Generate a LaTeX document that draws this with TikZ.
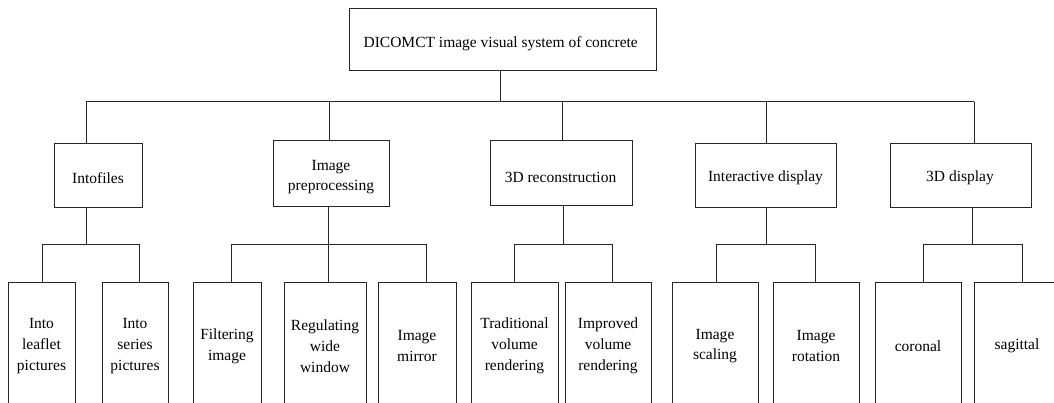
\documentclass[tikz,border=0pt]{standalone}
\usepackage{fontspec}
\setmainfont{Liberation Serif}
\begin{document}
\begin{tikzpicture}[x=1pt,y=-1pt,
  box/.style={draw=black!85, line width=1pt, inner sep=0pt, outer sep=0pt},
  txt/.style={inner sep=0pt, align=center, font=\fontsize{15.5}{20.8}\selectfont},
  conn/.style={draw=black!85, line width=1pt}]
\useasboundingbox (0,0) rectangle (1054,402);
\clip (0,0) rectangle (1054,402);
% top
\node[box, minimum width=307pt, minimum height=61.5pt] (top) at (502.5,39.25) {};
\node[txt] (tTop) at (500.7,44) {DICOMCT image visual system of concrete};
% level 2
\node[box, minimum width=88pt, minimum height=64pt] (A) at (98,175) {};
\node[txt] (tA) at (98,178) {Intofiles};
\node[box, minimum width=116pt, minimum height=66pt] (B) at (331,173) {};
\node[txt] (tB) at (331,177) {Image\\preprocessing};
\node[box, minimum width=142pt, minimum height=65pt] (C) at (561,172.5) {};
\node[txt] (tC) at (560.5,177) {3D reconstruction};
\node[box, minimum width=141pt, minimum height=64pt] (D) at (765.5,175) {};
\node[txt] (tD) at (765.5,178) {Interactive display};
\node[box, minimum width=141pt, minimum height=64pt] (E) at (960.5,175) {};
\node[txt] (tE) at (960,178) {3D display};
% level 3
\node[box, minimum width=67pt, minimum height=130pt] (A1) at (41.5,347) {};
\node[txt] (tA1) at (41.5,346) {Into\\leaflet\\pictures};
\node[box, minimum width=66pt, minimum height=130pt] (A2) at (135,347) {};
\node[txt] (tA2) at (135,346) {Into\\series\\pictures};
\node[box, minimum width=68pt, minimum height=130pt] (B1) at (227,347) {};
\node[txt] (tB1) at (227,346) {Filtering\\image};
\node[box, minimum width=82pt, minimum height=130pt] (B2) at (325,347) {};
\node[txt] (tB2) at (325,346) {Regulating\\wide\\window};
\node[box, minimum width=78pt, minimum height=130pt] (B3) at (417,347) {};
\node[txt] (tB3) at (417,346) {Image\\mirror};
\node[box, minimum width=87pt, minimum height=130pt] (C1) at (514.5,347) {};
\node[txt] (tC1) at (514.5,346) {Traditional\\volume\\rendering};
\node[box, minimum width=86pt, minimum height=130pt] (C2) at (608,347) {};
\node[txt] (tC2) at (608,346) {Improved\\volume\\rendering};
\node[box, minimum width=86pt, minimum height=130pt] (D1) at (715,347) {};
\node[txt] (tD1) at (715,346) {Image\\scaling};
\node[box, minimum width=86pt, minimum height=130pt] (D2) at (816,347) {};
\node[txt] (tD2) at (816,346) {Image\\rotation};
\node[box, minimum width=86pt, minimum height=130pt] (E1) at (918,347) {};
\node[txt] (tE1) at (918,346) {coronal};
\node[box, minimum width=86pt, minimum height=130pt] (E2) at (1017,347) {};
\node[txt] (tE2) at (1017,346) {sagittal};
% connectors level 1 -> 2
\coordinate (jTop) at (500,101.5);
\coordinate (sA) at (86,101.5);
\coordinate (sB) at (329,101.5);
\coordinate (sC) at (562,101.5);
\coordinate (sD) at (766,101.5);
\coordinate (sE) at (974,101.5);
\draw[conn] (top.south -| jTop) -- (jTop);
\draw[conn] (sA) -- (sE);
\foreach \s/\n in {sA/A,sB/B,sC/C,sD/D,sE/E}
  \draw[conn] (\s) -- (\s |- \n.north);
% level 2 -> 3
\coordinate (dA) at (86,244);
\coordinate (a1) at (42,244);
\coordinate (a2) at (139,244);
\coordinate (dB) at (328,244);
\coordinate (b1) at (231,244);
\coordinate (b2) at (328,244);
\coordinate (b3) at (426,244);
\coordinate (dC) at (563,244);
\coordinate (c1) at (514,244);
\coordinate (c2) at (612,244);
\coordinate (dD) at (766,244);
\coordinate (d1) at (716,244);
\coordinate (d2) at (815,244);
\coordinate (dE) at (972,244);
\coordinate (e1) at (923,244);
\coordinate (e2) at (1022,244);
\foreach \d/\n in {dA/A,dB/B,dC/C,dD/D,dE/E}
  \draw[conn] (\n.south -| \d) -- (\d);
\draw[conn] (a1) -- (a2);
\draw[conn] (b1) -- (b3);
\draw[conn] (c1) -- (c2);
\draw[conn] (d1) -- (d2);
\draw[conn] (e1) -- (e2);
\foreach \c/\n in {a1/A1,a2/A2,b1/B1,b2/B2,b3/B3,c1/C1,c2/C2,d1/D1,d2/D2,e1/E1,e2/E2}
  \draw[conn] (\c) -- (\c |- \n.north);
\end{tikzpicture}
\end{document}
